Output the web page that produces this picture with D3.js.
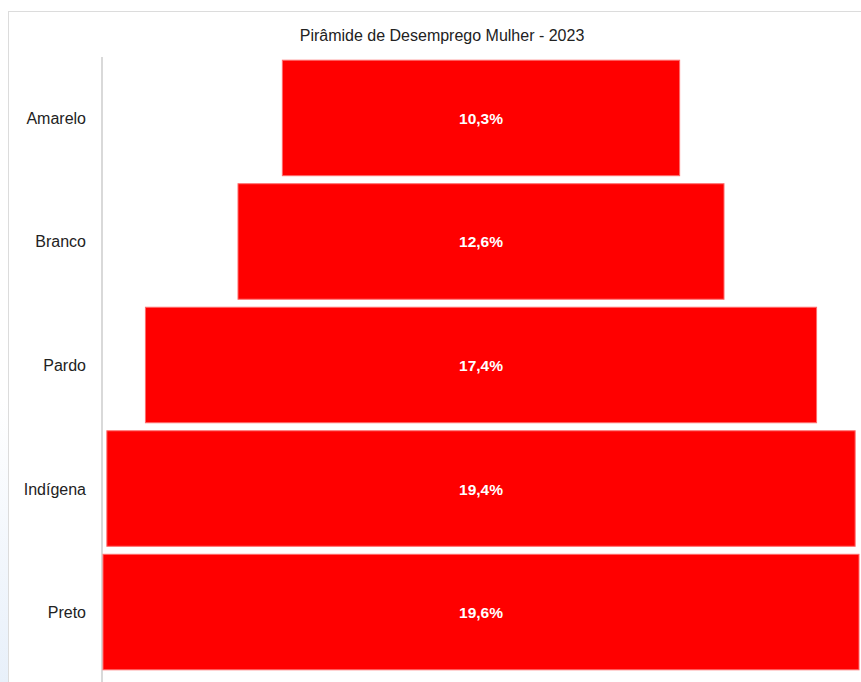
<!DOCTYPE html>
<html><head><meta charset="utf-8">
<script src="https://cdn.jsdelivr.net/npm/d3@7"></script>
<style>
html,body{margin:0;padding:0;background:#fff;}
svg{display:block;font-family:"Liberation Sans",Arial,sans-serif;}
</style></head>
<body>
<svg id="c" width="861" height="682"></svg>
<script>
const categories = ["Amarelo","Branco","Pardo","Indígena","Preto"];
const values = [10.3,12.6,17.4,19.4,19.6];
const valueLabels = ["10,3%","12,6%","17,4%","19,4%","19,6%"];
const title = "Pirâmide de Desemprego Mulher - 2023";

const svg = d3.select("#c");
const grad = svg.append("defs").append("linearGradient").attr("id","bg").attr("x1",0).attr("y1",0).attr("x2",0).attr("y2",1);
grad.append("stop").attr("offset","0%").attr("stop-color","#ffffff");
grad.append("stop").attr("offset","100%").attr("stop-color","#e8f0fa");
svg.append("rect").attr("x",0).attr("y",400).attr("width",8).attr("height",282).attr("fill","url(#bg)");

svg.append("rect").attr("x",8.5).attr("y",11.5).attr("width",870).attr("height",700)
  .attr("fill","#fff").attr("stroke","#dcdcdc").attr("stroke-width",1);

svg.append("text").attr("x",442).attr("y",41).attr("text-anchor","middle")
  .attr("font-size",16).attr("fill","#222").text(title);

const cx = 481;
const x = d3.scaleLinear().domain([0, d3.max(values)]).range([0, 756]);
const y = d3.scaleBand().domain(categories).range([56, 673]).paddingInner(0.065).paddingOuter(0.03);

svg.append("line").attr("x1",102).attr("x2",102).attr("y1",57).attr("y2",682)
  .attr("stroke","#d9d9d9").attr("stroke-width",2);

const g = svg.append("g");
g.selectAll("rect.bar").data(categories).join("rect").attr("class","bar")
  .attr("x",(d,i)=>cx - x(values[i])/2)
  .attr("y",d=>y(d)+0.5)
  .attr("width",(d,i)=>x(values[i]))
  .attr("height",y.bandwidth())
  .attr("fill","#ff0000").attr("stroke","#ff6b6b").attr("stroke-width",1);

g.selectAll("text.val").data(categories).join("text").attr("class","val")
  .attr("x",cx).attr("y",d=>y(d)+y.bandwidth()/2+6.5)
  .attr("text-anchor","middle").attr("font-size",15.5).attr("font-weight","bold")
  .attr("fill","#fff").text((d,i)=>valueLabels[i]);

g.selectAll("text.cat").data(categories).join("text").attr("class","cat")
  .attr("x",86).attr("y",d=>y(d)+y.bandwidth()/2+6.5)
  .attr("text-anchor","end").attr("font-size",16).attr("fill","#222").text(d=>d);
</script>
</body></html>
